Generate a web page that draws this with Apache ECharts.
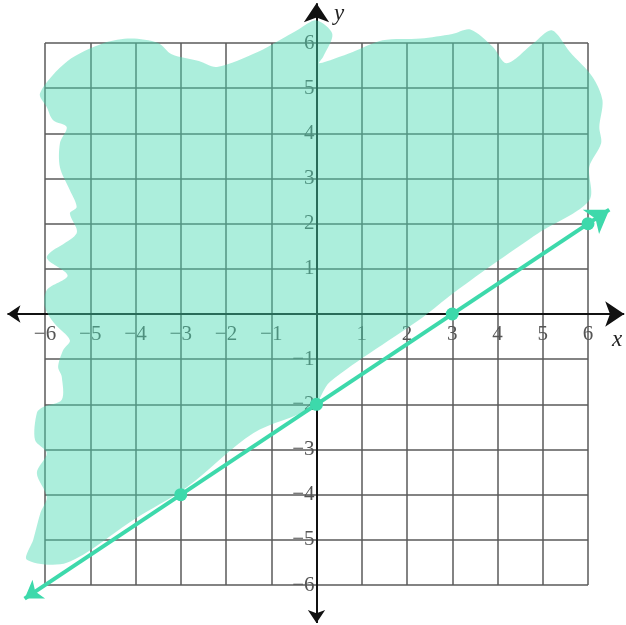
<!DOCTYPE html>
<html>
<head>
<meta charset="utf-8">
<script src="https://cdn.jsdelivr.net/npm/echarts@6/dist/echarts.min.js"></script>
<style>
  html, body { margin: 0; padding: 0; background: #fff; }
  #main { width: 626px; height: 625px; }
</style>
</head>
<body>
<div id="main"></div>
<script>
// axis range (both axes -6..6)
const axisMin = -6;
const axisMax = 6;

// plotted points on the boundary line
const pointX = [-3, 0, 3, 6];
const pointY = [-4, -2, 0, 2];

// boundary line y = 2/3 x - 2, drawn past the grid with arrow ends
const lineX = [-6.45, 6.47];
const lineY = [-6.3, 2.31];

// coordinate axes with arrow ends
const xAxisEnds = [-6.83, 6.8];
const yAxisEnds = [-6.84, 6.88];

// outline of the hand-shaded region (above the line)
const shadeX = [
  -6.11, -5.5, -4.7, -4.1, -3.5, -3.2, -2.6, -2.2, -1.3, -0.4, 0.0, 0.35, 0.15, 0.06, 0.8, 1.46,
  2.3, 3.0, 3.4, 3.9, 4.2, 4.8, 5.2, 5.6, 6.1, 6.32, 6.25, 6.29, 6.03, 6.03,
  4.9, 4.03, 3.02, 2.35, 0.3, -0.08, -1.4, -2.86, -4.05, -5.52, -6.4,
  -6.26, -6.1, -5.96, -6.18, -5.96, -6.22, -6.18, -6.04, -5.63, -5.63, -5.71, -5.6, -5.45, -5.8, -6.0,
  -5.96, -5.5, -5.96, -5.3, -5.45, -5.3, -5.45, -5.67, -5.67, -5.52, -5.82, -5.96
];
const shadeY = [
  4.89, 5.6, 6.0, 6.1, 6.0, 5.75, 5.6, 5.47, 5.8, 6.3, 6.5, 6.2, 5.7, 5.55, 5.8, 6.06,
  6.1, 6.2, 6.3, 5.91, 5.55, 6.0, 6.28, 5.8, 5.25, 4.73, 4.14, 3.78, 3.26, 2.52,
  1.79, 1.19, 0.46, -0.07, -1.5, -2.06, -2.64, -3.83, -4.56, -5.51, -5.44,
  -5.0, -4.4, -4.05, -3.52, -3.08, -2.79, -2.19, -2.06, -1.9, -1.39, -1.17, -0.8, -0.58, -0.2, 0.15,
  0.53, 0.85, 1.26, 1.79, 2.23, 2.37, 2.74, 3.25, 3.78, 4.14, 4.29, 4.58
];

const tealLine = '#3dd9ab';
const labelFont = 'Liberation Serif';

function tickLabel(v) {
  if (v === 0) return '';
  return v < 0 ? '\u2212' + (-v) : String(v);
}

const chart = echarts.init(document.getElementById('main'));

const option = {
  animation: false,
  backgroundColor: '#fff',
  grid: { left: 45, right: 38, top: 43, bottom: 40 },
  xAxis: {
    type: 'value',
    min: axisMin,
    max: axisMax,
    interval: 1,
    // move the labels up to y = 0
    offset: -271,
    axisLine: { show: false, onZero: false },
    axisTick: { show: false },
    axisLabel: {
      margin: 10,
      color: '#555',
      fontFamily: labelFont,
      fontSize: 21,
      formatter: tickLabel
    },
    splitLine: { show: true, lineStyle: { color: '#5a5a5a', width: 1.5 } }
  },
  yAxis: {
    type: 'value',
    min: axisMin,
    max: axisMax,
    interval: 1,
    // move the labels right to x = 0
    offset: -271.5,
    axisLine: { show: false, onZero: false },
    axisTick: { show: false },
    axisLabel: {
      margin: 2,
      color: '#555',
      fontFamily: labelFont,
      fontSize: 21,
      formatter: tickLabel
    },
    splitLine: { show: true, lineStyle: { color: '#5a5a5a', width: 1.5 } }
  },
  graphic: [
    {
      type: 'text',
      left: 612,
      top: 328,
      style: { text: 'x', font: 'italic 23px "Liberation Serif"', fill: '#222' }
    },
    {
      type: 'text',
      left: 334,
      top: 2,
      style: { text: 'y', font: 'italic 23px "Liberation Serif"', fill: '#222' }
    }
  ],
  series: [
    {
      // axes
      type: 'lines',
      coordinateSystem: 'cartesian2d',
      clip: false,
      z: 1,
      symbol: ['arrow', 'arrow'],
      symbolSize: [13, 19],
      lineStyle: { color: '#111', width: 2, opacity: 1 },
      data: [
        { coords: [[xAxisEnds[0], 0], [xAxisEnds[1], 0]] },
        { coords: [[0, yAxisEnds[0]], [0, yAxisEnds[1]]] }
      ]
    },
    {
      // shaded half-plane
      type: 'custom',
      clip: false,
      z: 2,
      data: [0],
      renderItem: function (params, api) {
        const pts = shadeX.map(function (x, i) { return api.coord([x, shadeY[i]]); });
        return {
          type: 'polygon',
          shape: { points: pts, smooth: 0.3 },
          style: { fill: 'rgba(70, 218, 178, 0.45)', stroke: null }
        };
      }
    },
    {
      // boundary line
      type: 'lines',
      coordinateSystem: 'cartesian2d',
      clip: false,
      z: 3,
      symbol: ['arrow', 'arrow'],
      symbolSize: [17, 22],
      lineStyle: { color: tealLine, width: 4, opacity: 1 },
      data: [{ coords: [[lineX[0], lineY[0]], [lineX[1], lineY[1]]] }]
    },
    {
      type: 'scatter',
      clip: false,
      z: 4,
      symbolSize: 13,
      itemStyle: { color: tealLine, opacity: 1 },
      data: pointX.map(function (x, i) { return [x, pointY[i]]; })
    }
  ]
};

chart.setOption(option);
</script>
</body>
</html>
